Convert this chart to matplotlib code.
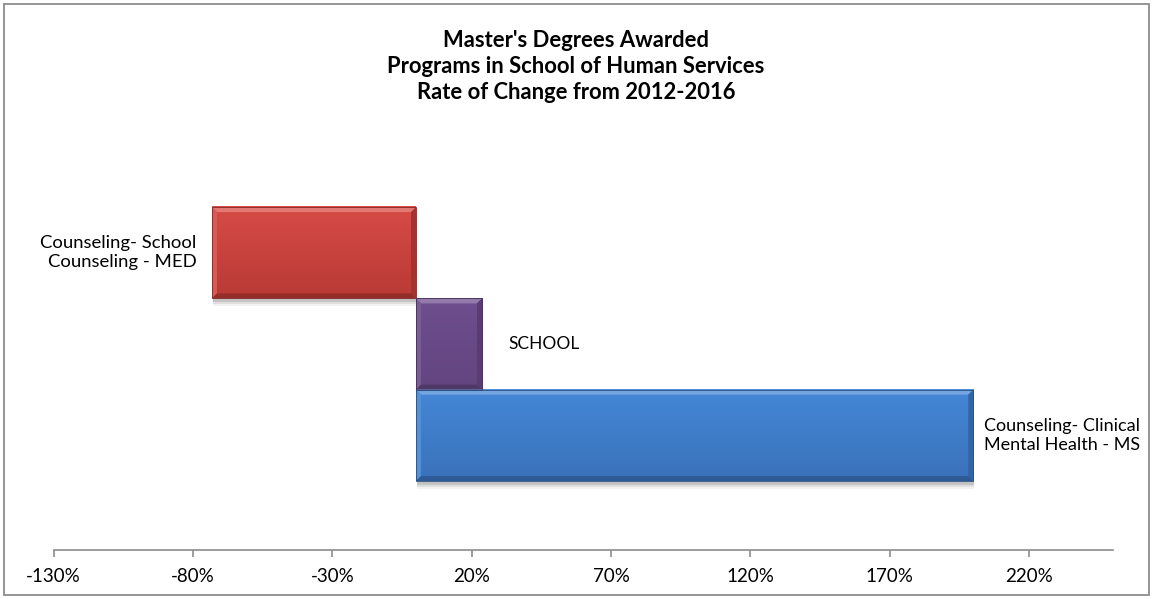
import matplotlib.pyplot as plt
import numpy as np
from matplotlib.patches import Polygon, Rectangle

plt.rcParams['font.family'] = ['Lato', 'DejaVu Sans']

# rate of change 2012-2016, top to bottom
programs = ["Counseling- School\nCounseling - MED", "SCHOOL",
            "Counseling- Clinical\nMental Health - MS"]
change = [-73.2, 23.7, 200.0]
ticks = [-130, -80, -30, 20, 70, 120, 170, 220]

face_top = ["#D74B46", "#6E4E8E", "#4487D6"]
face_bot = ["#B93A36", "#634580", "#3A72BA"]

fig = plt.figure(figsize=(11.53, 5.99), dpi=100)
ax = fig.add_axes([0.0466, 0.0818, 0.9184, 0.726])

XMIN, XMAX = -130, 250
YMIN, YMAX = 3.256, -1.508
ax.set_xlim(XMIN, XMAX)
ax.set_ylim(YMIN, YMAX)

# pixel sizes in data units for the bevel edges
pxx = (XMAX - XMIN) / (0.9184 * 1153)
pxy = (YMIN - YMAX) / (0.726 * 599)
bev = 5

def lighten(c, f):
    c = np.array(plt.matplotlib.colors.to_rgb(c))
    return tuple(c + (1 - c) * f)

def darken(c, f):
    c = np.array(plt.matplotlib.colors.to_rgb(c))
    return tuple(c * (1 - f))

for i, v in enumerate(change):
    x0, x1 = min(0, v), max(0, v)
    y0, y1 = i - 0.5, i + 0.5
    # soft shadow
    for k, a in zip([6, 4, 2], [0.05, 0.08, 0.12]):
        ax.add_patch(Rectangle((x0 + 1 * pxx, y0 + 2 * pxy), x1 - x0,
                               1 + k * pxy, color="black", alpha=a, lw=0,
                               zorder=1))
    # vertical gradient face
    grad = np.linspace(0, 1, 64)[:, None]
    c0 = np.array(plt.matplotlib.colors.to_rgb(face_top[i]))
    c1 = np.array(plt.matplotlib.colors.to_rgb(face_bot[i]))
    img = c0[None, None, :] * (1 - grad[..., None]) + c1[None, None, :] * grad[..., None]
    ax.imshow(img, extent=(x0, x1, y1, y0), aspect="auto", zorder=2,
              interpolation="bilinear")
    bx, by = bev * pxx, bev * pxy
    top = [(x0, y0), (x1, y0), (x1 - bx, y0 + by), (x0 + bx, y0 + by)]
    bot = [(x0, y1), (x1, y1), (x1 - bx, y1 - by), (x0 + bx, y1 - by)]
    lft = [(x0, y0), (x0 + bx, y0 + by), (x0 + bx, y1 - by), (x0, y1)]
    rgt = [(x1, y0), (x1 - bx, y0 + by), (x1 - bx, y1 - by), (x1, y1)]
    ax.add_patch(Polygon(top, color=lighten(face_top[i], 0.25), lw=0, zorder=3))
    ax.add_patch(Polygon(lft, color=lighten(face_top[i], 0.08), lw=0, zorder=3))
    ax.add_patch(Polygon(rgt, color=darken(face_bot[i], 0.12), lw=0, zorder=3))
    ax.add_patch(Polygon(bot, color=darken(face_bot[i], 0.2), lw=0, zorder=3))
    ax.add_patch(Rectangle((x0, y0), x1 - x0, 1, fill=False,
                           ec=darken(face_bot[i], 0.3), lw=0.6, zorder=4))

    # category label beside the bar
    if v < 0:
        ax.annotate(programs[i], (x0, i), xytext=(-11, 0),
                    textcoords="offset points", ha="right", va="center",
                    fontsize=13.3, linespacing=1.2)
    elif i == 1:
        ax.annotate(programs[i], (x1, i), xytext=(19, 0),
                    textcoords="offset points", ha="left", va="center",
                    fontsize=12.5)
    else:
        ax.annotate(programs[i], (x1, i), xytext=(8, 0),
                    textcoords="offset points", ha="left", va="center",
                    fontsize=13.0, linespacing=1.2)

ax.set_xticks(ticks)
ax.set_xticklabels([f"{t}%" for t in ticks])
ax.set_yticks([])
ax.tick_params(axis="x", direction="out", length=5, width=1.2,
               color="#8C8C8C", labelsize=13.5, pad=8)
for s in ["left", "top", "right"]:
    ax.spines[s].set_visible(False)
ax.spines["bottom"].set_color("#8C8C8C")
ax.spines["bottom"].set_linewidth(1.2)
ax.patch.set_alpha(0)

fig.text(0.4995, 0.95,
         "Master's Degrees Awarded\nPrograms in School of Human Services\nRate of Change from 2012-2016",
         ha="center", va="top", fontsize=15.8, fontweight="bold",
         linespacing=1.3)

# chart border
fig.add_artist(Rectangle((0.0035, 0.006), 0.993, 0.988,
                         transform=fig.transFigure, fill=False,
                         ec="#8C8C8C", lw=1.3))

fig.savefig("out.png", dpi=100)
